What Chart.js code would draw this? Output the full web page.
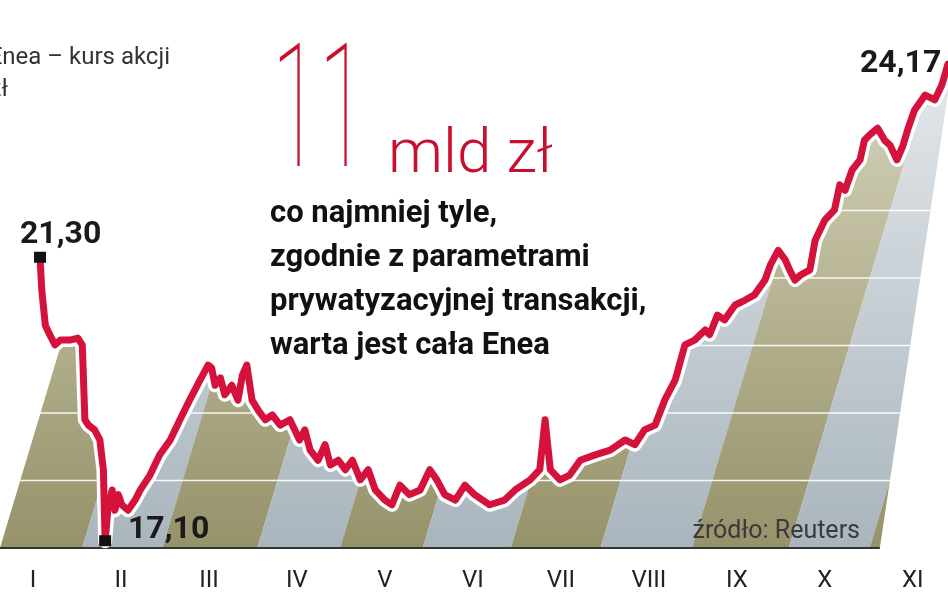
<!DOCTYPE html>
<html>
<head>
<meta charset="utf-8">
<script src="https://cdn.jsdelivr.net/npm/chart.js@4"></script>
<style>
  html, body { margin: 0; padding: 0; background: #fff; }
  #wrap { width: 948px; height: 593px; position: relative; }
</style>
</head>
<body>
<div id="wrap"><canvas id="chart"></canvas></div>
<script>
// month position (0 = I) and share price, zł
const months = [0.08,0.10,0.14,0.19,0.25,0.31,0.42,0.51,0.56,0.59,0.63,0.70,0.76,0.80,0.82,0.85,0.90,0.93,0.97,1.01,1.08,1.16,1.22,1.33,1.44,1.56,1.67,1.78,1.90,1.99,2.03,2.07,2.13,2.18,2.26,2.33,2.38,2.43,2.49,2.56,2.64,2.72,2.81,2.92,3.03,3.09,3.15,3.24,3.32,3.38,3.47,3.55,3.63,3.72,3.81,3.89,4.00,4.08,4.17,4.28,4.40,4.51,4.59,4.68,4.80,4.91,5.02,5.19,5.36,5.48,5.65,5.76,5.82,5.88,5.99,6.10,6.22,6.39,6.56,6.73,6.84,6.95,7.07,7.18,7.30,7.41,7.52,7.64,7.69,7.78,7.86,7.98,8.09,8.20,8.32,8.38,8.47,8.55,8.60,8.66,8.72,8.83,8.89,9.00,9.11,9.17,9.23,9.31,9.40,9.45,9.51,9.60,9.68,9.74,9.82,9.89,9.94,10.02,10.14,10.25,10.33,10.40];
const prices = [21.30,20.82,20.30,20.16,20.01,20.08,20.08,20.11,20.01,18.90,18.82,18.75,18.60,18.16,17.10,17.56,17.86,17.56,17.79,17.64,17.56,17.71,17.86,18.08,18.38,18.60,18.90,19.19,19.49,19.71,19.67,19.41,19.52,19.27,19.41,19.19,19.56,19.71,19.19,19.04,18.90,18.97,18.82,18.90,18.60,18.75,18.45,18.30,18.53,18.23,18.30,18.16,18.30,18.01,18.16,17.86,17.71,17.64,17.93,17.79,17.86,18.16,18.01,17.79,17.71,17.93,17.79,17.64,17.71,17.86,18.01,18.16,18.90,18.16,18.01,18.08,18.30,18.38,18.45,18.60,18.53,18.75,18.82,19.19,19.49,20.01,20.08,20.23,20.16,20.45,20.38,20.60,20.67,20.75,20.97,21.19,21.41,21.27,21.12,20.97,21.04,21.12,21.56,21.86,22.01,22.38,22.30,22.60,22.75,23.04,23.12,23.22,23.04,22.97,22.75,22.97,23.19,23.49,23.71,23.64,23.86,24.17];
const monthLabels = ['I','II','III','IV','V','VI','VII','VIII','IX','X','XI'];
const gridValues = [18, 19, 20, 21, 22];
// stripe edges along the baseline, in month units
const stripeEdges = [-0.375,0.56,1.47,2.55,3.49,4.43,5.43,6.45,7.49,8.59,9.51,9.625];

const points = months.map((m, i) => ({ x: m, y: prices[i] }));
const iMin = prices.indexOf(Math.min(...prices));

const backdrop = {
  id: 'backdrop',
  beforeDatasetsDraw(chart) {
    const { ctx, scales: { x, y } } = chart;
    const pts = chart.getDatasetMeta(0).data;
    const base = y.getPixelForValue(17);
    const xEnd = x.getPixelForValue(9.625);
    ctx.save();
    ctx.beginPath();
    ctx.moveTo(-10, base);
    ctx.lineTo(-10, pts[0].y);
    pts.forEach(p => ctx.lineTo(p.x, p.y));
    ctx.lineTo(pts[pts.length - 1].x + 10, pts[pts.length - 1].y);
    ctx.lineTo(960, base);
    ctx.closePath();
    ctx.clip();
    ctx.beginPath();
    ctx.moveTo(-10, base);
    ctx.lineTo(xEnd, base);
    ctx.lineTo(xEnd + 0.15 * base, 0);
    ctx.lineTo(-10, 0);
    ctx.closePath();
    ctx.clip();
    const slant = 0.3;
    for (let i = 0; i < stripeEdges.length - 1; i++) {
      const a = x.getPixelForValue(stripeEdges[i]);
      const b = x.getPixelForValue(stripeEdges[i + 1]);
      const g = ctx.createLinearGradient(0, base, 0, 60);
      if (i % 2 === 0) { g.addColorStop(0, '#96926a'); g.addColorStop(1, '#d6d4bc'); }
      else { g.addColorStop(0, '#a9b5bd'); g.addColorStop(1, '#e4e8eb'); }
      ctx.fillStyle = g;
      ctx.beginPath();
      ctx.moveTo(a, base);
      ctx.lineTo(b, base);
      ctx.lineTo(b + slant * base, 0);
      ctx.lineTo(a + slant * base, 0);
      ctx.closePath();
      ctx.fill();
    }
    ctx.strokeStyle = 'rgba(255,255,255,0.9)';
    ctx.lineWidth = 1.5;
    gridValues.forEach(v => {
      const py = y.getPixelForValue(v);
      ctx.beginPath(); ctx.moveTo(0, py); ctx.lineTo(948, py); ctx.stroke();
    });
    ctx.restore();
    ctx.save();
    ctx.strokeStyle = '#333';
    ctx.lineWidth = 2;
    ctx.beginPath(); ctx.moveTo(0, base); ctx.lineTo(xEnd, base); ctx.stroke();
    ctx.restore();
  },
  afterDatasetsDraw(chart) {
    const { ctx, scales: { x, y } } = chart;
    const pts = chart.getDatasetMeta(0).data;
    ctx.save();
    ctx.fillStyle = '#111';
    [pts[0], pts[iMin]].forEach(p => ctx.fillRect(p.x - 6, p.y - 6, 12, 11));
    // month labels
    ctx.fillStyle = '#222';
    ctx.font = '24px Roboto, sans-serif';
    ctx.textAlign = 'center';
    ctx.textBaseline = 'alphabetic';
    monthLabels.forEach((l, i) => ctx.fillText(l, x.getPixelForValue(i), 587));
    // value labels
    ctx.font = 'bold 32px Roboto, sans-serif';
    ctx.fillStyle = '#1a1a1a';
    ctx.textAlign = 'left';
    ctx.fillText('21,30', 20, 243);
    ctx.fillText('17,10', 128, 538);
    ctx.fillText('24,17', 860, 72);
    // source
    ctx.font = '25px Roboto, sans-serif';
    ctx.fillStyle = '#3a3a3a';
    ctx.textAlign = 'right';
    ctx.fillText('źródło: Reuters', 860, 538);
    // title, cut at the left edge
    ctx.font = '24px Roboto, sans-serif';
    ctx.fillStyle = '#333';
    ctx.fillText('Enea – kurs akcji', 170, 64);
    ctx.fillText('w zł', 8, 96);
    // big number, condensed
    ctx.fillStyle = '#c8102e';
    ctx.textAlign = 'left';
    ctx.save();
    ctx.translate(272, 166);
    ctx.scale(0.5, 1);
    ctx.font = '100 172px Roboto, sans-serif';
    ctx.fillText('11', 0, 0);
    ctx.restore();
    ctx.font = '300 62px Roboto, sans-serif';
    ctx.fillText('mld zł', 388, 172);
    ctx.fillStyle = '#111';
    ctx.font = 'bold 31px Roboto, sans-serif';
    ['co najmniej tyle,', 'zgodnie z parametrami', 'prywatyzacyjnej transakcji,', 'warta jest cała Enea']
      .forEach((t, i) => ctx.fillText(t, 270, 222 + i * 44));
    ctx.restore();
  }
};

new Chart(document.getElementById('chart'), {
  type: 'line',
  data: {
    datasets: [
      { data: points, borderColor: '#d4123c', borderWidth: 7, pointRadius: 0, tension: 0, clip: false,
        borderJoinStyle: 'round', borderCapStyle: 'round', order: 0 },
      { data: points, borderColor: '#ffffff', borderWidth: 14, pointRadius: 0, tension: 0, clip: false,
        borderJoinStyle: 'round', order: 1 }
    ]
  },
  options: {
    responsive: true,
    maintainAspectRatio: false,
    animation: false,
    layout: { padding: 0 },
    plugins: { legend: { display: false }, tooltip: { enabled: false } },
    scales: {
      x: { type: 'linear', display: false, min: -0.375, max: 10.40 },
      y: { display: false, min: 16.333, max: 25.119 }
    }
  },
  plugins: [backdrop]
});
</script>
</body>
</html>
